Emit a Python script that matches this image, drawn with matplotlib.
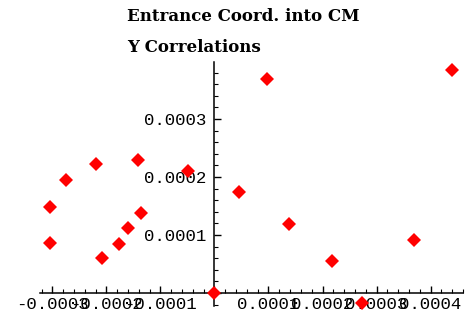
import matplotlib
matplotlib.use('Agg')
import matplotlib.pyplot as plt
from matplotlib.ticker import MultipleLocator, FuncFormatter

# valores (x, y de entrada no CM)
x_vals = [-3.05e-4, -3.05e-4, -2.75e-4, -2.19e-4, -2.08e-4, -1.77e-4, -1.60e-4,
          -1.42e-4, -1.36e-4, -0.49e-4, 0.0, 0.45e-4, 0.97e-4, 1.38e-4,
          2.18e-4, 2.73e-4, 3.69e-4, 4.40e-4]
y_vals = [1.48e-4, 0.86e-4, 1.95e-4, 2.22e-4, 0.60e-4, 0.84e-4, 1.12e-4,
          2.29e-4, 1.38e-4, 2.10e-4, 0.0, 1.74e-4, 3.69e-4, 1.19e-4,
          0.55e-4, -0.17e-4, 0.91e-4, 3.84e-4]

W, H = 467, 321
fig = plt.figure(figsize=(W / 100, H / 100), dpi=100)

# area do eixo em pixels
left, right = 40, 463
top, bottom = 62, 306
ax = fig.add_axes([left / W, 1 - bottom / H, (right - left) / W, (bottom - top) / H])

# 0 em x=214.5px, 54px por 1e-4 ; 0 em y=293px, 58px por 1e-4
ax.set_xlim((left - 214.5) / 54 * 1e-4, (right - 214.5) / 54 * 1e-4)
ax.set_ylim((293 - bottom) / 58 * 1e-4, (293 - top) / 58 * 1e-4)

ax.plot(x_vals, y_vals, linestyle='none', marker='D', ms=7.5, color='red',
        markeredgewidth=0, clip_on=False, zorder=5)

for s in ['top', 'right']:
    ax.spines[s].set_visible(False)
ax.spines['left'].set_position(('data', 0))
ax.spines['bottom'].set_position(('data', 0))
ax.spines['left'].set_linewidth(1.1)
ax.spines['bottom'].set_linewidth(1.1)

ax.xaxis.set_major_locator(MultipleLocator(1e-4))
ax.xaxis.set_minor_locator(MultipleLocator(0.2e-4))
ax.yaxis.set_major_locator(MultipleLocator(1e-4))
ax.yaxis.set_minor_locator(MultipleLocator(0.2e-4))

def fmt(v, pos):
    if abs(v) < 1e-9:
        return ''
    return '%.4f' % v

ax.xaxis.set_major_formatter(FuncFormatter(fmt))
ax.yaxis.set_major_formatter(FuncFormatter(fmt))

ax.tick_params(axis='x', which='both', direction='in', top=False, pad=3)
ax.tick_params(axis='y', which='both', direction='in', right=False, pad=6)
ax.tick_params(which='major', length=5, width=1)
ax.tick_params(which='minor', length=3, width=0.8)
for lab in ax.get_xticklabels() + ax.get_yticklabels():
    lab.set_family('Liberation Mono')
    lab.set_fontsize(12.5)

fig.text(127 / W, 1 - 21 / H, 'Entrance Coord. into CM', family='DejaVu Serif',
         weight='bold', fontsize=12, ha='left', va='baseline')
fig.text(127 / W, 1 - 52 / H, 'Y Correlations', family='DejaVu Serif',
         weight='bold', fontsize=12, ha='left', va='baseline')

fig.savefig('out.png', dpi=100)
